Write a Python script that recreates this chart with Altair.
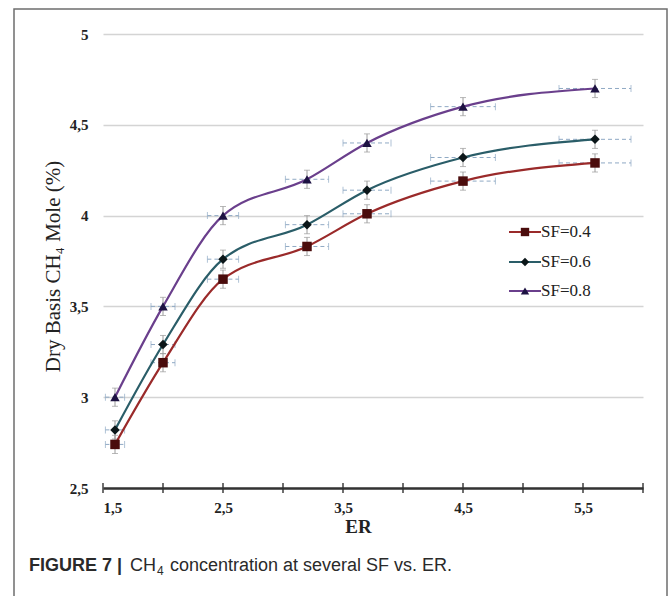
import altair as alt
import pandas as pd

# ---- data ----
er = [1.6, 2.0, 2.5, 3.2, 3.7, 4.5, 5.6]
sf04 = [2.74, 3.19, 3.65, 3.83, 4.01, 4.19, 4.29]
sf06 = [2.82, 3.29, 3.76, 3.95, 4.14, 4.32, 4.42]
sf08 = [3.00, 3.50, 4.00, 4.20, 4.40, 4.60, 4.70]
x_err = [0.08, 0.10, 0.13, 0.18, 0.20, 0.27, 0.30]
y_err = [0.05, 0.05, 0.05, 0.05, 0.05, 0.05, 0.05]
series_names = ["SF=0.4", "SF=0.6", "SF=0.8"]
line_colors = ["#9a2a2a", "#2a5d68", "#6a3f8c"]
marker_colors = ["#4a0c0c", "#0b1619", "#1d1242"]
marker_shapes = ["square", "diamond", "triangle-up"]
x_ticks = [1.5, 2.0, 2.5, 3.0, 3.5, 4.0, 4.5, 5.0, 5.5, 6.0]
y_ticks = [2.5, 3.0, 3.5, 4.0, 4.5, 5.0]

rows = []
for name, vals in zip(series_names, [sf04, sf06, sf08]):
    for x, y, xe, ye in zip(er, vals, x_err, y_err):
        rows.append({"series": name, "ER": x, "CH4": y,
                     "xlo": x - xe, "xhi": x + xe, "ylo": y - ye, "yhi": y + ye})
df = pd.DataFrame(rows)
ticks_df = pd.DataFrame({"t": x_ticks})

W, H = 540, 454
xscale = alt.Scale(domain=[1.5, 6.0], nice=False, zero=False)
yscale = alt.Scale(domain=[2.5, 5.0], nice=False, zero=False)
serif = "Liberation Serif"

color_scale = alt.Scale(domain=series_names, range=line_colors)
mcolor_scale = alt.Scale(domain=series_names, range=marker_colors)
shape_scale = alt.Scale(domain=series_names, range=marker_shapes)

base = alt.Chart(df)

# axes / grid carrier
axes = alt.Chart(pd.DataFrame({"ER": [1.5], "CH4": [2.5]})).mark_point(opacity=0).encode(
    x=alt.X("ER:Q", scale=xscale,
            axis=alt.Axis(values=x_ticks, ticks=False, grid=False, domain=True,
                          domainColor="#333333", domainWidth=2.4,
                          labelExpr="datum.value % 1 != 0 ? replace(format(datum.value, '.1f'), '.', ',') : ''",
                          labelFont=serif, labelFontWeight="bold", labelFontSize=15,
                          labelColor="#222222", labelPadding=12,
                          title="ER", titleFont=serif, titleFontSize=19,
                          titleFontWeight="bold", titleColor="#222222",
                          titleX=255, titleY=38, titleBaseline="middle")),
    y=alt.Y("CH4:Q", scale=yscale,
            axis=alt.Axis(values=y_ticks, ticks=False, domain=False, grid=True,
                          gridColor="#d4d4d4", gridWidth=1.6,
                          labelExpr="replace(toString(datum.value), '.', ',')",
                          labelFont=serif, labelFontWeight="bold", labelFontSize=15,
                          labelColor="#222222", labelPadding=15,
                          title="Dry Basis CH₄  Mole (%)", titleFont=serif,
                          titleFontSize=21, titleFontWeight="normal",
                          titleColor="#222222", titleAngle=-90,
                          titleX=-50, titleY=232, titleBaseline="middle",
                          titleAlign="center")),
)

axis_ticks = alt.Chart(ticks_df).mark_rule(color="#333333", strokeWidth=1.4).encode(
    x=alt.X("t:Q", scale=xscale),
    y=alt.value(H - 5), y2=alt.value(H + 5),
)

herr = base.mark_rule(color="#8fa9c4", strokeWidth=1, strokeDash=[4, 3]).encode(
    x=alt.X("xlo:Q", scale=xscale), x2="xhi:Q",
    y=alt.Y("CH4:Q", scale=yscale),
)
hcap_lo = base.mark_tick(color="#8fa9c4", orient="vertical", size=7, thickness=1).encode(
    x=alt.X("xlo:Q", scale=xscale), y=alt.Y("CH4:Q", scale=yscale))
hcap_hi = base.mark_tick(color="#8fa9c4", orient="vertical", size=7, thickness=1).encode(
    x=alt.X("xhi:Q", scale=xscale), y=alt.Y("CH4:Q", scale=yscale))

verr = base.mark_rule(color="#9a9a9a", strokeWidth=1).encode(
    x=alt.X("ER:Q", scale=xscale),
    y=alt.Y("ylo:Q", scale=yscale), y2="yhi:Q",
)
vcap_lo = base.mark_tick(color="#9a9a9a", orient="horizontal", size=6, thickness=1).encode(
    x=alt.X("ER:Q", scale=xscale), y=alt.Y("ylo:Q", scale=yscale))
vcap_hi = base.mark_tick(color="#9a9a9a", orient="horizontal", size=6, thickness=1).encode(
    x=alt.X("ER:Q", scale=xscale), y=alt.Y("yhi:Q", scale=yscale))

lines = base.mark_line(strokeWidth=2.2, interpolate="monotone").encode(
    x=alt.X("ER:Q", scale=xscale),
    y=alt.Y("CH4:Q", scale=yscale),
    color=alt.Color("series:N", scale=color_scale, legend=None),
    detail="series:N",
)

points = base.mark_point(filled=True, opacity=1, size=90).encode(
    x=alt.X("ER:Q", scale=xscale),
    y=alt.Y("CH4:Q", scale=yscale),
    fill=alt.Fill("series:N", scale=mcolor_scale, legend=None),
    shape=alt.Shape("series:N", scale=shape_scale, legend=None),
)

# manual legend (decoration)
legend_layers = []
leg_y = [198, 228, 257]
for name, lc, mc, shp, ly in zip(series_names, line_colors, marker_colors, marker_shapes, leg_y):
    one = alt.Chart(pd.DataFrame({"label": [name]}))
    legend_layers.append(one.mark_rule(color=lc, strokeWidth=2).encode(
        x=alt.value(406), x2=alt.value(438), y=alt.value(ly)))
    legend_layers.append(one.mark_point(filled=True, opacity=1, size=70, shape=shp, color=mc).encode(
        x=alt.value(422), y=alt.value(ly)))
    legend_layers.append(one.mark_text(align="left", baseline="middle", font=serif,
                                       fontSize=17, color="#222222").encode(
        x=alt.value(438), y=alt.value(ly), text="label:N"))

# figure frame and caption (decoration)
frame = alt.Chart(pd.DataFrame({"a": [0]})).mark_rect(
    fill=None, stroke="#6e6e6e", strokeWidth=1.5).encode(
    x=alt.value(-89), x2=alt.value(564), y=alt.value(-25), y2=alt.value(600))

cap_font = "Liberation Sans"
cap_parts = [("FIGURE 7 |", "bold", 18, -74, 532),
             ("CH", "normal", 18, 27, 532),
             ("4", "normal", 12, 54, 537),
             ("concentration at several SF vs. ER.", "normal", 18, 67, 532)]
caption_layers = []
for txt, wt, fs, cx, cy in cap_parts:
    caption_layers.append(alt.Chart(pd.DataFrame({"t": [txt]})).mark_text(
        align="left", baseline="middle", font=cap_font, fontWeight=wt,
        fontSize=fs, color="#2a2a2a").encode(
        x=alt.value(cx), y=alt.value(cy), text="t:N"))

chart = alt.layer(
    frame, axes, axis_ticks, herr, hcap_lo, hcap_hi, verr, vcap_lo, vcap_hi,
    lines, points, *legend_layers, *caption_layers
).resolve_scale(color="independent").properties(
    width=W, height=H,
    padding={"left": 103, "top": 34, "right": 27, "bottom": 108},
    autosize=alt.AutoSizeParams(type="none"),
    background="white",
).configure_view(stroke=None)

chart.save("out.html", embed_options={"renderer": "svg", "actions": False})
